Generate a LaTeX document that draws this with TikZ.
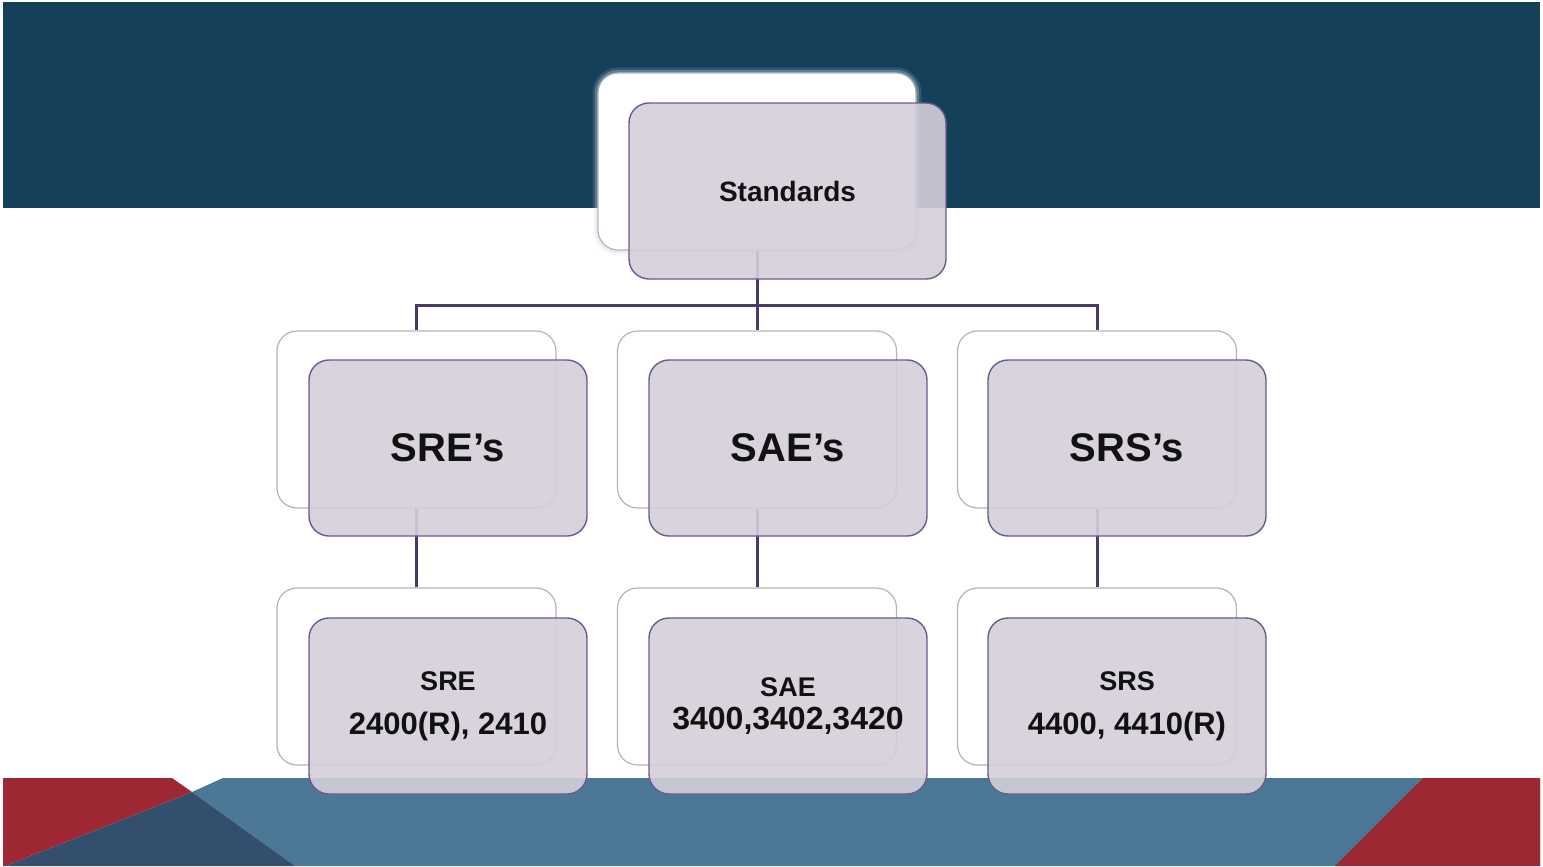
\documentclass[tikz,border=0pt]{standalone}
\usepackage{fontspec}
\setmainfont{Liberation Sans}
\definecolor{banner}{HTML}{15405A}
\definecolor{bandblue}{HTML}{4A7896}
\definecolor{darktri}{HTML}{344F6E}
\definecolor{redc}{HTML}{9E2734}
\definecolor{lavfill}{HTML}{D4CFDA}
\definecolor{lavline}{HTML}{6B5A8C}
\definecolor{connc}{HTML}{4A3A6A}
\definecolor{boxgray}{HTML}{B4B4B8}
\definecolor{glowc}{HTML}{C9DAE6}
\definecolor{txt}{HTML}{111111}
\begin{document}
\begin{tikzpicture}[x=1pt,y=-1pt,
  wbox/.style={draw=boxgray, line width=1.2pt, fill=white, rounded corners=20pt,
    minimum width=279pt, minimum height=177pt, inner sep=0pt},
  lbox/.style={draw=lavline, line width=1.4pt, fill=lavfill, fill opacity=0.9,
    text opacity=1, text=txt, rounded corners=20pt, minimum width=278pt,
    minimum height=176pt, inner sep=0pt, align=center},
  glow/.style={draw=glowc, rounded corners=20pt, minimum width=318pt,
    minimum height=177pt, inner sep=0pt},
  conn/.style={draw=connc, line width=3pt}
]
\useasboundingbox (0,0) rectangle (1543,867);
\fill[white] (0,0) rectangle (1543,867);
% banner
\fill[banner] (3,2) rectangle (1540,208);
% bottom band
\fill[bandblue] (192,792) -- (223,778) -- (1540,778) -- (1540,866) -- (295,866) -- cycle;
\fill[darktri] (192,792) -- (295,866) -- (5,866) -- cycle;
\fill[redc] (3,778) -- (172,778) -- (192,792) -- (5,866) -- (3,866) -- cycle;
\fill[redc] (1423,778) -- (1540,778) -- (1540,866) -- (1335,866) -- cycle;

% glow behind top white box
\node[glow, line width=11pt, draw opacity=0.15] (glowa) at (757,161.5) {};
\node[glow, line width=6pt, draw opacity=0.3] (glowb) at (757,161.5) {};

% white back boxes
\node[wbox, minimum width=318pt] (stdw) at (757,161.5) {};
\node[wbox] (srew) at (416.5,419.5) {};
\node[wbox] (saew) at (757,419.5) {};
\node[wbox] (srsw) at (1097,419.5) {};
\node[wbox] (srebw) at (416.5,676.5) {};
\node[wbox] (saebw) at (757,676.5) {};
\node[wbox] (srsbw) at (1097,676.5) {};

% connectors
\coordinate (hub) at (757,305);
\draw[conn] (stdw.south) -- (hub);
\draw[conn] (hub) -| (srew.north);
\draw[conn] (hub) -| (srsw.north);
\draw[conn] (hub) -- (saew.north);
\draw[conn] (srew.south) -- (srebw.north);
\draw[conn] (saew.south) -- (saebw.north);
\draw[conn] (srsw.south) -- (srsbw.north);

% lavender front boxes
\node[lbox, minimum width=317pt, font=\fontsize{28}{34}\selectfont\bfseries] (std) at (787.5,191) {Standards};
\node[lbox, font=\fontsize{40}{48}\selectfont\bfseries] (sre) at (448,448) {SRE’s};
\node[lbox, font=\fontsize{40}{48}\selectfont\bfseries] (sae) at (788,448) {SAE’s};
\node[lbox, font=\fontsize{40}{48}\selectfont\bfseries] (srs) at (1127,448) {SRS’s};
\node[lbox, font=\fontsize{31}{44}\selectfont\bfseries] (sreb) at (448,706) {{\fontsize{27}{44}\selectfont SRE}\\2400(R), 2410};
\node[lbox, font=\fontsize{32}{33}\selectfont\bfseries] (saeb) at (788,706) {{\fontsize{27}{33}\selectfont SAE}\\3400,3402,3420};
\node[lbox, font=\fontsize{31}{44}\selectfont\bfseries] (srsb) at (1127,706) {{\fontsize{27}{44}\selectfont SRS}\\4400, 4410(R)};
\end{tikzpicture}
\end{document}
